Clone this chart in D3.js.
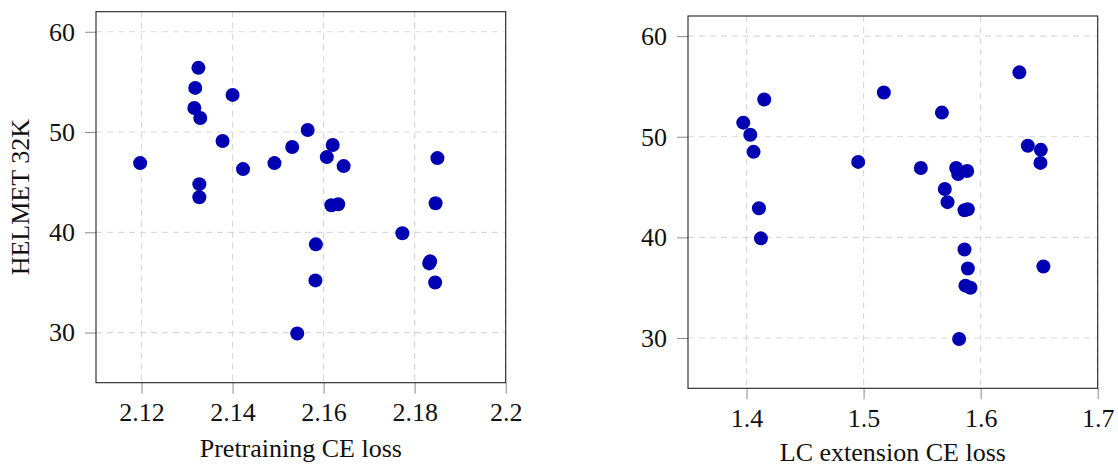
<!DOCTYPE html>
<html>
<head>
<meta charset="utf-8">
<script src="https://cdn.jsdelivr.net/npm/d3@7"></script>
<style>
  body { margin: 0; background: #fff; }
</style>
</head>
<body>
<svg id="chart" width="1118" height="468"></svg>
<script>
// HELMET 32K score per model, with the two losses
const helmetScores = [56.4, 54.4, 53.7, 52.4, 51.4, 50.2, 49.1, 48.5, 48.7, 47.5,
                      47.4, 46.9, 46.9, 46.3, 46.6, 44.8, 43.5, 42.7, 42.8, 42.9,
                      39.9, 38.8, 36.9, 37.1, 35.2, 35.0, 29.9];
const pretrainLoss = [2.1325, 2.1318, 2.1400, 2.1316, 2.1329, 2.1565, 2.1378, 2.1531, 2.1620, 2.1607,
                      2.1850, 2.1197, 2.1492, 2.1423, 2.1644, 2.1327, 2.1327, 2.1617, 2.1632, 2.1846,
                      2.1773, 2.1583, 2.1832, 2.1834, 2.1582, 2.1845, 2.1542];
const lcLoss = [1.6331, 1.5173, 1.4151, 1.5669, 1.3972, 1.4032, 1.6403, 1.4060, 1.6514, 1.4954,
                1.6511, 1.5489, 1.5791, 1.5808, 1.5885, 1.5694, 1.5717, 1.5862, 1.5890, 1.4106,
                1.4123, 1.5862, 1.5891, 1.6536, 1.5870, 1.5913, 1.5816];

const pretrainTicks = [2.12, 2.14, 2.16, 2.18, 2.2];
const lcTicks = [1.4, 1.5, 1.6, 1.7];
const yTicks = [30, 40, 50, 60];

const dotColor = "#0000b3",
    gridColor = "#d9d9d9",
    serif = "'Liberation Serif', 'Times New Roman', serif",
    fontSize = 26,
    dotRadius = 7;

const svg = d3.select("#chart");

const drawPanel = function (box, xDomain, xTicks, xValues, xTitle, yTitle) {
    var x = d3.scaleLinear().domain(xDomain).range([box.left, box.right]),
        y = d3.scaleLinear().domain([25, 62]).range([box.bottom, box.top]);

    var g = svg.append("g");

    // grid
    g.selectAll(".vgrid").data(xTicks).enter().append("line")
        .attr("x1", d => x(d)).attr("x2", d => x(d))
        .attr("y1", box.top).attr("y2", box.bottom)
        .attr("stroke", gridColor).attr("stroke-width", 1.2)
        .attr("stroke-dasharray", "6,5");
    g.selectAll(".hgrid").data(yTicks).enter().append("line")
        .attr("x1", box.left).attr("x2", box.right)
        .attr("y1", d => y(d)).attr("y2", d => y(d))
        .attr("stroke", gridColor).attr("stroke-width", 1.2)
        .attr("stroke-dasharray", "6,5");

    // axes
    var xAxis = d3.axisBottom(x).tickValues(xTicks).tickSize(11).tickPadding(9)
        .tickFormat(d => String(+d.toFixed(2)));
    var yAxis = d3.axisLeft(y).tickValues(yTicks).tickSize(11).tickPadding(10);

    var xg = g.append("g").attr("transform", "translate(0," + box.bottom + ")").call(xAxis);
    var yg = g.append("g").attr("transform", "translate(" + box.left + ",0)").call(yAxis);
    [xg, yg].forEach(function (a) {
        a.select(".domain").remove();
        a.selectAll(".tick line").attr("stroke", "#8a8a8a");
        a.selectAll(".tick text")
            .style("font-family", serif)
            .style("font-size", fontSize + "px")
            .attr("fill", "#111");
    });

    // frame
    g.append("rect")
        .attr("x", box.left).attr("y", box.top)
        .attr("width", box.right - box.left).attr("height", box.bottom - box.top)
        .attr("fill", "none").attr("stroke", "#222").attr("stroke-width", 1.1);

    // points
    g.selectAll("circle").data(helmetScores).enter().append("circle")
        .attr("cx", (d, i) => x(xValues[i]))
        .attr("cy", d => y(d))
        .attr("r", dotRadius)
        .attr("fill", dotColor);

    g.append("text")
        .attr("x", (box.left + box.right) / 2)
        .attr("y", box.titleY)
        .attr("text-anchor", "middle")
        .style("font-family", serif)
        .style("font-size", fontSize + "px")
        .attr("fill", "#111")
        .text(xTitle);

    if (yTitle) {
        g.append("text")
            .attr("transform", "translate(" + (box.left - 67) + "," + (box.top + box.bottom) / 2 + ") rotate(-90)")
            .attr("text-anchor", "middle")
            .style("font-family", serif)
            .style("font-size", fontSize + "px")
            .attr("fill", "#111")
            .text(yTitle);
    }
};

drawPanel({left: 96, right: 505.7, top: 11.7, bottom: 382.7, titleY: 457},
    [2.11, 2.2], pretrainTicks, pretrainLoss, "Pretraining CE loss", "HELMET 32K");
drawPanel({left: 688, right: 1097.7, top: 16, bottom: 388.3, titleY: 461},
    [1.35, 1.7], lcTicks, lcLoss, "LC extension CE loss", null);
</script>
</body>
</html>
